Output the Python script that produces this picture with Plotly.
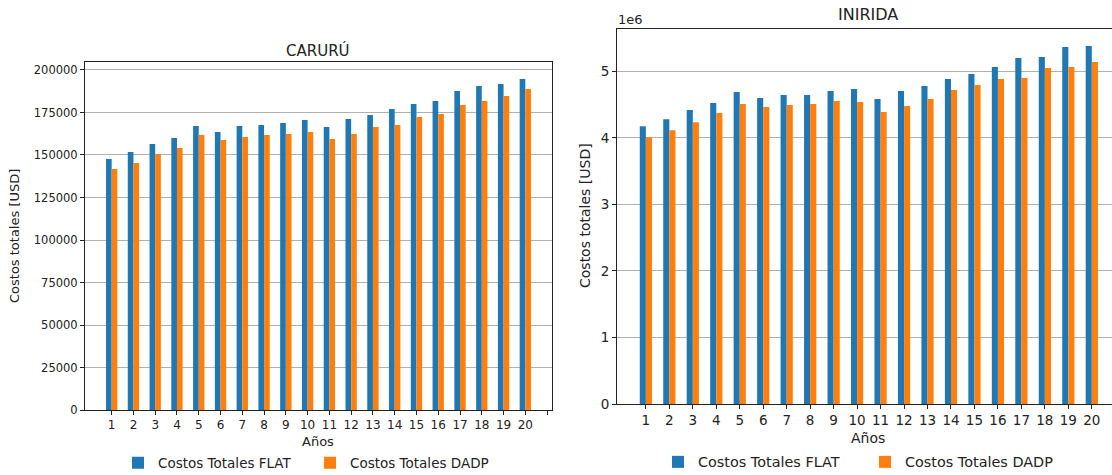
import plotly.graph_objects as go

W, H = 1112, 475

years = list(range(1, 21))
year_labels = [str(y) for y in years]

caruru_flat = [147650, 151765, 156470, 160000, 167060, 163530, 167060, 167650, 168820, 170590,
               166470, 171180, 173530, 177060, 180000, 181765, 187650, 190590, 191765, 194700]
caruru_dadp = [141765, 145290, 150590, 154120, 161765, 158820, 160590, 161765, 162350, 163530,
               159410, 162350, 166470, 167650, 172350, 174120, 179410, 181765, 184700, 188820]

inirida_flat = [4.176e6, 4.281e6, 4.417e6, 4.523e6, 4.688e6, 4.598e6, 4.643e6, 4.643e6, 4.704e6, 4.734e6,
                4.583e6, 4.704e6, 4.779e6, 4.884e6, 4.960e6, 5.065e6, 5.201e6, 5.216e6, 5.367e6, 5.382e6]
inirida_dadp = [4.010e6, 4.116e6, 4.236e6, 4.372e6, 4.508e6, 4.462e6, 4.492e6, 4.508e6, 4.553e6, 4.538e6,
                4.387e6, 4.477e6, 4.583e6, 4.719e6, 4.794e6, 4.884e6, 4.900e6, 5.050e6, 5.065e6, 5.141e6]

left_yticks = [0, 25000, 50000, 75000, 100000, 125000, 150000, 175000, 200000]
right_yticks = [0, 1e6, 2e6, 3e6, 4e6, 5e6]
right_yticklabels = ["0", "1", "2", "3", "4", "5"]

BLUE = "#1f77b4"
ORANGE = "#ff7f0e"
FONT = "DejaVu Sans"
TXT = "#222222"
BW = 0.26


def py(v):
    """pixel row from the top -> paper fraction"""
    return (H - v) / H


fig = go.Figure()

# Left chart
fig.add_trace(go.Bar(x=years, y=caruru_flat, width=BW, offset=-BW, marker_color=BLUE,
                     marker_line_width=0, name="Costos Totales FLAT", xaxis="x", yaxis="y",
                     legend="legend"))
fig.add_trace(go.Bar(x=years, y=caruru_dadp, width=BW, offset=0, marker_color=ORANGE,
                     marker_line_width=0, name="Costos Totales DADP", xaxis="x", yaxis="y",
                     legend="legend"))
# Right chart
fig.add_trace(go.Bar(x=years, y=inirida_flat, width=BW, offset=-BW, marker_color=BLUE,
                     marker_line_width=0, name="Costos Totales FLAT", xaxis="x2", yaxis="y2",
                     legend="legend2"))
fig.add_trace(go.Bar(x=years, y=inirida_dadp, width=BW, offset=0, marker_color=ORANGE,
                     marker_line_width=0, name="Costos Totales DADP", xaxis="x2", yaxis="y2",
                     legend="legend2"))

axis_common = dict(showline=True, linecolor="#222222", linewidth=1, ticks="outside",
                   ticklen=4, tickcolor="#222222", zeroline=False)

fig.update_layout(
    width=W, height=H, autosize=False,
    margin=dict(l=0, r=0, t=0, b=0, autoexpand=False),
    paper_bgcolor="white", plot_bgcolor="white",
    font=dict(family=FONT, color=TXT),
    barmode="overlay",
    xaxis=dict(domain=[85 / W, 552 / W], range=[-0.225, 21.225],
               tickvals=years + [21], ticktext=year_labels + [""],
               tickfont=dict(size=12), showgrid=False, mirror=True, anchor="y",
               **axis_common),
    yaxis=dict(domain=[py(410), py(62)], range=[0, 204700],
               tickvals=left_yticks, tickformat="d", tickfont=dict(size=11.5),
               showgrid=True, gridcolor="#b0b0b0", gridwidth=1, mirror=True, anchor="x",
               **axis_common),
    xaxis2=dict(domain=[617 / W, 1.0], range=[-0.23, 20.86],
                tickvals=years + [21], ticktext=year_labels + [""],
                tickfont=dict(size=13.5), showgrid=False, mirror=True, anchor="y2",
                **axis_common),
    yaxis2=dict(domain=[py(404), py(29)], range=[0, 5.636e6],
                tickvals=right_yticks, ticktext=right_yticklabels, tickfont=dict(size=13.5),
                showgrid=True, gridcolor="#b0b0b0", gridwidth=1, mirror=False, anchor="x2",
                **axis_common),
    legend=dict(orientation="h", x=310 / W, y=py(463), xanchor="center", yanchor="middle",
                xref="container", yref="container",
                font=dict(size=13.5), bgcolor="rgba(0,0,0,0)", itemwidth=30,
                entrywidth=147, traceorder="normal"),
    legend2=dict(orientation="h", x=865 / W, y=py(462), xanchor="center", yanchor="middle",
                 xref="container", yref="container",
                 font=dict(size=14.4), bgcolor="rgba(0,0,0,0)", itemwidth=30,
                 entrywidth=162, traceorder="normal"),
    showlegend=True,
)

ann = [
    dict(text="CARURÚ", x=318 / W, y=py(50), font=dict(size=15)),
    dict(text="INIRIDA", x=868 / W, y=py(14), font=dict(size=16)),
    dict(text="Años", x=318 / W, y=py(441), font=dict(size=13)),
    dict(text="Años", x=868 / W, y=py(438), font=dict(size=14)),
    dict(text="Costos totales [USD]", x=15 / W, y=py(236), textangle=-90, font=dict(size=13)),
    dict(text="Costos totales [USD]", x=585 / W, y=py(216), textangle=-90, font=dict(size=14)),
    dict(text="1e6", x=630 / W, y=py(19), font=dict(size=13)),
]
for a in ann:
    a.update(xref="paper", yref="paper", showarrow=False, xanchor="center", yanchor="middle")
    fig.add_annotation(**a)

fig.write_html("out.html", config={"displayModeBar": False},
               post_script="document.body.style.margin='0px';document.body.style.overflow='hidden';")
